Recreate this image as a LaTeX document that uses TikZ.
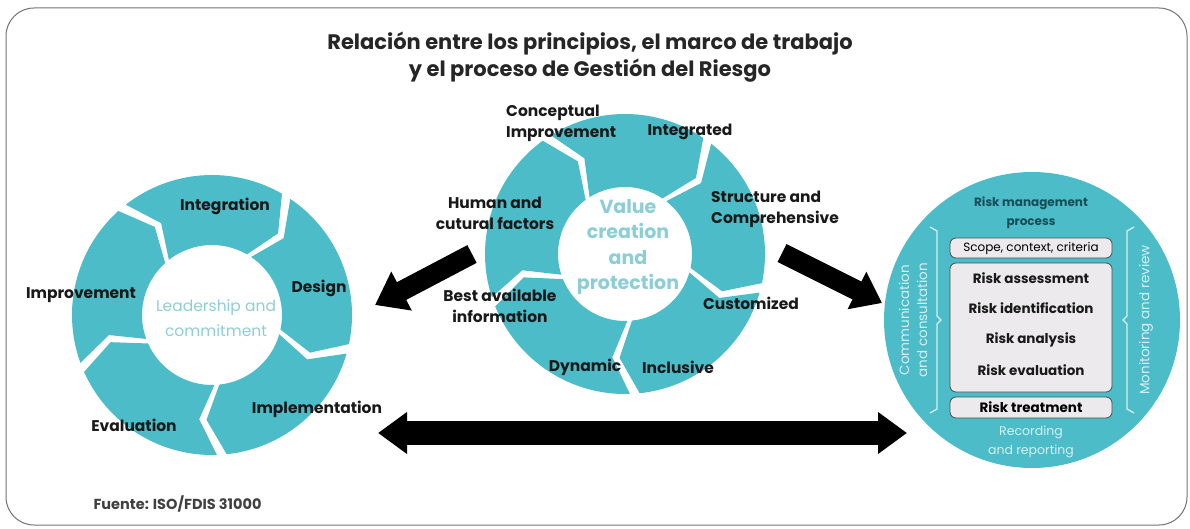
\documentclass[tikz,border=0pt]{standalone}
\usepackage{fontspec}
\setmainfont{Poppins}
\usetikzlibrary{arrows.meta}
\definecolor{ringteal}{RGB}{75,188,200}
\definecolor{softteal}{RGB}{140,206,214}
\definecolor{darkteal}{RGB}{22,78,88}
\definecolor{boxgray}{RGB}{236,234,236}
\definecolor{paleteal}{RGB}{214,240,243}
\tikzset{
  seg/.style={fill=ringteal},
  lbl/.style={font=\bfseries\fontsize{15.5}{21}\selectfont, text=black!90, align=center, inner sep=1pt},
  core/.style={font=\fontsize{15.5}{25}\selectfont, text=softteal, align=center, inner sep=0pt},
  procbox/.style={draw=black!70, fill=boxgray, rounded corners=6pt, line width=0.8pt, minimum width=162pt, inner sep=0pt},
  steptext/.style={font=\bfseries\fontsize{13.5}{15}\selectfont, text=black!90, inner sep=0pt},
  sidetext/.style={font=\fontsize{13.5}{18}\selectfont, text=paleteal, align=center, rotate=90, inner sep=0pt},
  bracket/.style={draw=paleteal, line width=1.3pt},
  blockarrow/.style={line width=20pt, -{Triangle[length=30pt,width=42pt]}},
}
\begin{document}
\begin{tikzpicture}[x=1pt,y=1pt]
  \useasboundingbox (0,0) rectangle (1190,528);
  \draw[black!55, line width=1pt, rounded corners=28pt] (6,3) rectangle (1187,520);

  \node[font=\bfseries\fontsize{21}{27}\selectfont, text=black!85, align=center] (title) at (590,471)
    {Relación entre los principios, el marco de trabajo\\y el proceso de Gestión del Riesgo};

  \coordinate (frame) at (212,213);
  \begin{scope}[shift={(frame)}]
    \foreach \a/\b in {128/60, 56/-12, -16/-84, -88/-156, -160/-228}
      \fill[seg] (\a:140) arc[start angle=\a, end angle=\b, radius=140]
        -- (\b-9:105) -- (\b:70) arc[start angle=\b, end angle=\a, radius=70]
        -- (\a-9:105) -- cycle;
  \end{scope}
  \node[core] (lead) at (216,210) {Leadership and\\commitment};
  \node[lbl] (integ) at (225,322) {Integration};
  \node[lbl] (design) at (319,240) {Design};
  \node[lbl] (impr) at (81,233) {Improvement};
  \node[lbl] (impl) at (317,119) {Implementation};
  \node[lbl] (eval) at (134,103) {Evaluation};

  \coordinate (princ) at (625,274);
  \begin{scope}[shift={(princ)}]
    \foreach \a/\b in {122/56, 52/-12, -16/-84, -88/-158, -162/-234}
      \fill[seg] (\a:140) arc[start angle=\a, end angle=\b, radius=140]
        -- (\b-9:104) -- (\b:67) arc[start angle=\b, end angle=\a, radius=67]
        -- (\a-9:104) -- cycle;
  \end{scope}
  \node[core, font=\bfseries\fontsize{19}{25.5}\selectfont] (value) at (628,281) {Value\\creation\\and\\protection};
  \node[lbl, anchor=west, align=left] (concept) at (505,405) {Conceptual\\Improvement};
  \node[lbl] (integr) at (690,396) {Integrated};
  \node[lbl] (human) at (495,315) {Human and\\cutural factors};
  \node[lbl, anchor=west, align=left] (struct) at (710,319) {Structure and\\Comprehensive};
  \node[lbl] (best) at (500,222) {Best available\\information};
  \node[lbl] (custom) at (751,225) {Customized};
  \node[lbl] (dyn) at (585,161) {Dynamic};
  \node[lbl] (incl) at (678,161) {Inclusive};

  \node[circle, fill=ringteal, minimum size=296pt, inner sep=0pt] (proc) at (1032,208) {};
  \node[font=\bfseries\fontsize{12}{19}\selectfont, text=darkteal, align=center] (ptitle) at (1031,315)
    {Risk management\\process};
  \node[procbox, minimum height=20pt, font=\fontsize{12}{13}\selectfont] (scope) at (1031,280) {Scope, context, criteria};
  \node[procbox, minimum height=129pt] (assess) at (1031,200.5) {};
  \node[steptext] (ra) at (1031,250) {Risk assessment};
  \node[steptext] (ri) at (1031,220) {Risk identification};
  \node[steptext] (ran) at (1031,188) {Risk analysis};
  \node[steptext] (rev) at (1031,158) {Risk evaluation};
  \node[procbox, minimum height=21pt, font=\bfseries\fontsize{13.5}{15}\selectfont] (treat) at (1031,120.5) {Risk treatment};
  \node[font=\fontsize{12.5}{19}\selectfont, text=paleteal, align=center] (record) at (1031,86) {Recording\\and reporting};
  \node[sidetext] (comm) at (913,208) {Communication\\and consultation};
  \node[sidetext] (monit) at (1146,208) {Monitoring and review};
  \draw[bracket] (930,301) -- (937,297) -- (937,212) -- (941,208) -- (937,204) -- (937,119) -- (930,115);
  \draw[bracket] (1134,301) -- (1127,297) -- (1127,212) -- (1123,208) -- (1127,204) -- (1127,119) -- (1134,115);

  \coordinate (fw-tail) at (472,274);
  \coordinate (fw-tip) at (375,223);
  \coordinate (pr-tail) at (782,275);
  \coordinate (pr-tip) at (882,225);
  \coordinate (lnk-l) at (378,95);
  \coordinate (lnk-r) at (907,95);
  \draw[blockarrow] (fw-tail) -- (fw-tip);
  \draw[blockarrow, -{Triangle[length=28pt,width=40pt]}] (pr-tail) -- (pr-tip);
  \draw[line width=24pt, {Triangle[length=29pt,width=40pt]}-{Triangle[length=29pt,width=40pt]}] (lnk-l) -- (lnk-r);

  \node[anchor=west, font=\bfseries\fontsize{14.5}{16}\selectfont, text=black!75] (src) at (90,24) {Fuente: ISO/FDIS 31000};
\end{tikzpicture}
\end{document}
